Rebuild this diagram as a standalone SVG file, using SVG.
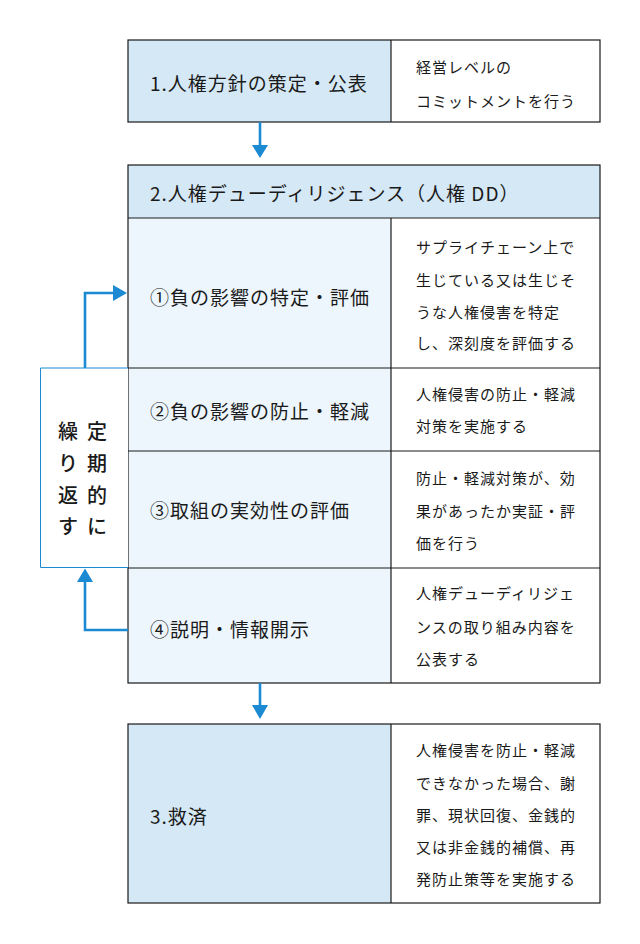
<svg xmlns="http://www.w3.org/2000/svg" width="640" height="944" viewBox="0 0 640 944">
<style>
.t{font-family:"Noto Sans CJK JP","Noto Sans",sans-serif;fill:#1a1a1a;}
.h{font-size:19px;font-weight:400;letter-spacing:1px;}
.b{font-size:15px;letter-spacing:1px;}
.v{font-size:20px;font-weight:500;}
.box{stroke:#1a1a1a;stroke-width:1.2;}
.hd{fill:#d5e8f5;}
.lt{fill:#edf6fd;}
.wh{fill:#ffffff;}
.ln{stroke:#1a1a1a;stroke-width:1.2;fill:none;}
.ar{stroke:#1b8ad3;stroke-width:2.6;fill:none;}
.ah{fill:#1b8ad3;}
</style>
<rect width="640" height="944" fill="#ffffff"/>

<g id="node-policy">
<rect x="128" y="40" width="263" height="82" class="hd"/>
<rect x="391" y="40" width="209" height="82" class="wh"/>
<rect x="128" y="40" width="472" height="82" class="ln"/>
<line x1="391" y1="40" x2="391" y2="122" class="ln"/>
<text x="150" y="82" class="t h" dominant-baseline="central">1.人権方針の策定・公表</text>
<text x="416" y="66" class="t b" dominant-baseline="central">経営レベルの</text>
<text x="416" y="100" class="t b" dominant-baseline="central">コミットメントを行う</text>
</g>

<g id="node-dd">
<rect x="128" y="165" width="472" height="53" class="hd"/>
<rect x="128" y="218" width="263" height="465" class="lt"/>
<rect x="391" y="218" width="209" height="465" class="wh"/>
<rect x="128" y="165" width="472" height="518" class="ln"/>
<line x1="128" y1="218" x2="600" y2="218" class="ln"/>
<line x1="391" y1="218" x2="391" y2="683" class="ln"/>
<text x="150" y="192" class="t h" dominant-baseline="central">2.人権デューディリジェンス（人権 DD）</text>
</g>

<g id="node-step1">
<text x="150" y="296" class="t h" dominant-baseline="central">①負の影響の特定・評価</text>
<text x="416" y="246" class="t b" dominant-baseline="central">サプライチェーン上で</text>
<text x="416" y="279" class="t b" dominant-baseline="central">生じている又は生じそ</text>
<text x="416" y="311" class="t b" dominant-baseline="central">うな人権侵害を特定</text>
<text x="416" y="342" class="t b" dominant-baseline="central">し、深刻度を評価する</text>
</g>

<g id="node-step2">
<line x1="128" y1="368" x2="600" y2="368" class="ln"/>
<text x="150" y="410" class="t h" dominant-baseline="central">②負の影響の防止・軽減</text>
<text x="416" y="393" class="t b" dominant-baseline="central">人権侵害の防止・軽減</text>
<text x="416" y="425" class="t b" dominant-baseline="central">対策を実施する</text>
</g>

<g id="node-step3">
<line x1="128" y1="451" x2="600" y2="451" class="ln"/>
<text x="150" y="509" class="t h" dominant-baseline="central">③取組の実効性の評価</text>
<text x="416" y="477" class="t b" dominant-baseline="central">防止・軽減対策が、効</text>
<text x="416" y="510" class="t b" dominant-baseline="central">果があったか実証・評</text>
<text x="416" y="542" class="t b" dominant-baseline="central">価を行う</text>
</g>

<g id="node-step4">
<line x1="128" y1="568" x2="600" y2="568" class="ln"/>
<text x="150" y="628" class="t h" dominant-baseline="central">④説明・情報開示</text>
<text x="416" y="592" class="t b" dominant-baseline="central">人権デューディリジェ</text>
<text x="416" y="626" class="t b" dominant-baseline="central">ンスの取り組み内容を</text>
<text x="416" y="658" class="t b" dominant-baseline="central">公表する</text>
</g>

<g id="node-repeat">
<path d="M128 368 H40.5 V567.5 H128" fill="#ffffff" stroke="#1b8ad3" stroke-width="1"/>
<g class="t v" text-anchor="middle" dominant-baseline="central">
<text x="68" y="430">繰</text>
<text x="68" y="462">り</text>
<text x="68" y="494">返</text>
<text x="68" y="525">す</text>
<text x="97" y="430">定</text>
<text x="97" y="462">期</text>
<text x="97" y="494">的</text>
<text x="97" y="525">に</text>
</g>
</g>

<g id="node-remedy">
<rect x="128" y="724" width="263" height="179" class="hd"/>
<rect x="391" y="724" width="209" height="179" class="wh"/>
<rect x="128" y="724" width="472" height="179" class="ln"/>
<line x1="391" y1="724" x2="391" y2="903" class="ln"/>
<text x="150" y="815" class="t h" dominant-baseline="central">3.救済</text>
<text x="416" y="749" class="t b" dominant-baseline="central">人権侵害を防止・軽減</text>
<text x="416" y="782" class="t b" dominant-baseline="central">できなかった場合、謝</text>
<text x="416" y="814" class="t b" dominant-baseline="central">罪、現状回復、金銭的</text>
<text x="416" y="846" class="t b" dominant-baseline="central">又は非金銭的補償、再</text>
<text x="416" y="878" class="t b" dominant-baseline="central">発防止策等を実施する</text>
</g>

<g id="connectors">
<line x1="260" y1="122" x2="260" y2="146" class="ar"/>
<polygon points="252,145 268,145 260,158" class="ah"/>
<line x1="260" y1="683" x2="260" y2="706" class="ar"/>
<polygon points="252,705 268,705 260,719" class="ah"/>
<polyline points="85,368 85,293 114,293" class="ar"/>
<polygon points="113,285 113,301 127,293" class="ah"/>
<polyline points="128,630 85,630 85,581" class="ar"/>
<polygon points="77,582 93,582 85,568.5" class="ah"/>
</g>
</svg>
